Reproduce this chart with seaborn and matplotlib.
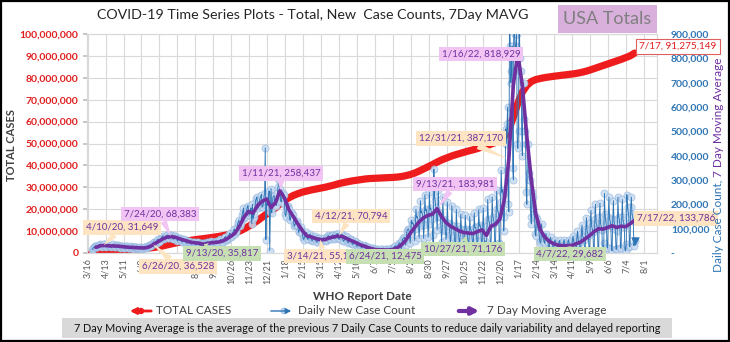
import matplotlib
matplotlib.use("Agg")
import numpy as np
import pandas as pd
import matplotlib.pyplot as plt
import matplotlib.dates as mdates
from matplotlib.patches import Rectangle, Ellipse
from matplotlib.ticker import FuncFormatter, MultipleLocator
import seaborn as sns

# ---------------- data ----------------
# Daily new case counts (thousands), Mon..Sun per row, first day 2020-03-23
daily_new_2020 = [
    14, 18, 22, 24, 27, 29, 27,
    26, 24, 28, 31, 33, 35, 31,
    29, 26, 31, 33, 35, 36, 30,
    27, 25, 29, 31, 32, 33, 29,
    27, 24, 28, 31, 33, 35, 28,
    25, 23, 27, 30, 32, 33, 29,
    24, 22, 25, 28, 29, 30, 26,
    21, 20, 23, 26, 27, 28, 25,
    21, 19, 22, 24, 26, 27, 23,
    20, 18, 20, 23, 25, 26, 23,
    19, 17, 20, 22, 24, 25, 22,
    18, 17, 20, 22, 24, 26, 23,
    20, 19, 24, 27, 29, 33, 31,
    29, 28, 35, 38, 42, 46, 44,
    40, 39, 46, 50, 55, 57, 49,
    47, 49, 57, 62, 65, 70, 61,
    58, 60, 66, 70, 72, 73, 65,
    60, 62, 68, 72, 74, 70, 63,
    57, 58, 64, 68, 70, 65, 58,
    50, 52, 56, 60, 62, 59, 53,
    46, 47, 52, 55, 56, 52, 47,
    41, 40, 45, 48, 50, 47, 42,
    37, 37, 42, 45, 47, 45, 40,
    35, 36, 41, 44, 46, 43, 37,
    31, 27, 32, 37, 41, 42, 40,
    34, 35, 39, 42, 46, 45, 40,
    37, 38, 42, 46, 49, 47, 42,
    36, 38, 43, 46, 50, 50, 44,
    40, 41, 47, 52, 56, 55, 46,
    44, 47, 55, 60, 66, 67, 54,
    52, 58, 63, 71, 79, 82, 68,
    65, 70, 78, 88, 95, 98, 80,
    85, 92, 105, 120, 128, 135, 110,
    115, 125, 140, 155, 170, 185, 145,
    150, 155, 165, 175, 190, 195, 170,
    155, 165, 180, 185, 120, 200, 140,
    150, 160, 190, 215, 225, 230, 195,
    185, 195, 215, 225, 235, 240, 190,
    190, 200, 230, 245, 432, 55, 205,
    195, 200, 215, 255, 10, 170, 265,
]
# first day 2020-12-28
daily_new_2021 = [
    165, 185, 230, 235, 235, 200, 200,
    195, 215, 245, 270, 300, 300, 265,
    215, 210, 230, 240, 245, 240, 200,
    160, 150, 175, 195, 195, 185, 180,
    140, 135, 150, 160, 165, 155, 140,
    110, 115, 120, 125, 130, 125, 110,
    85, 90, 95, 100, 105, 92, 78,
    60, 55, 65, 72, 80, 85, 70,
    56, 58, 70, 75, 77, 70, 55,
    50, 54, 62, 66, 68, 63, 53,
    44, 47, 55, 60, 63, 61, 55,
    45, 48, 55, 59, 63, 62, 53,
    50, 52, 60, 66, 72, 69, 65,
    56, 58, 67, 72, 75, 74, 60,
    58, 60, 72, 78, 80, 80, 62,
    56, 58, 70, 75, 78, 76, 56,
    48, 50, 60, 65, 68, 66, 49,
    42, 44, 52, 56, 58, 55, 43,
    35, 37, 44, 47, 49, 46, 36,
    28, 29, 35, 37, 39, 36, 27,
    22, 23, 28, 30, 32, 30, 24,
    18, 20, 23, 25, 24, 17, 13,
    10, 11, 16, 19, 20, 16, 13,
    10, 11, 14, 16, 17, 14, 9,
    10, 11, 14, 16, 17, 13, 10,
    9, 10, 14, 15, 16, 14, 9,
    10, 12, 15, 17, 20, 15, 9,
    8, 15, 25, 27, 30, 22, 13,
    22, 30, 38, 40, 43, 35, 16,
    35, 55, 60, 62, 65, 55, 32,
    60, 90, 95, 100, 95, 80, 40,
    80, 135, 120, 125, 120, 105, 50,
    100, 180, 145, 150, 140, 120, 60,
    110, 215, 165, 170, 160, 135, 60,
    115, 240, 175, 180, 165, 145, 65,
    120, 250, 180, 185, 170, 140, 75,
    30, 345, 230, 215, 190, 170, 95,
    150, 260, 170, 165, 150, 110, 45,
    100, 230, 140, 135, 125, 90, 55,
    90, 210, 125, 120, 110, 75, 40,
    80, 195, 115, 110, 100, 65, 35,
    50, 180, 110, 100, 95, 60, 35,
    70, 160, 100, 95, 85, 50, 28,
    65, 155, 100, 95, 85, 50, 24,
    65, 150, 95, 95, 85, 48, 22,
    70, 165, 105, 105, 95, 50, 26,
    80, 180, 110, 115, 105, 48, 27,
    90, 185, 110, 25, 50, 30, 15,
    110, 220, 140, 130, 120, 30, 20,
    120, 230, 150, 140, 125, 35, 25,
    135, 260, 180, 170, 160, 40, 35,
    210, 340, 250, 260, 240, 90, 150,
]
# first day 2021-12-27
daily_new_2022 = [
    250, 510, 450, 530, 600, 200, 170,
    1050, 850, 700, 750, 850, 350, 300,
    1400, 900, 800, 850, 900, 450, 430,
    500, 1100, 800, 750, 750, 500, 400,
    700, 700, 550, 500, 450, 250, 200,
    450, 450, 330, 300, 300, 150, 120,
    250, 230, 180, 160, 150, 80, 70,
    150, 140, 105, 95, 85, 50, 40,
    50, 120, 75, 65, 60, 45, 40,
    70, 80, 55, 50, 45, 20, 15,
    55, 65, 45, 40, 35, 15, 10,
    48, 55, 38, 33, 30, 12, 8,
    45, 52, 35, 32, 28, 10, 8,
    45, 55, 35, 30, 28, 9, 8,
    48, 55, 38, 33, 30, 8, 5,
    55, 70, 45, 42, 35, 10, 9,
    62, 90, 55, 48, 40, 12, 8,
    80, 115, 70, 65, 55, 12, 9,
    100, 145, 90, 80, 68, 12, 9,
    125, 175, 110, 100, 85, 12, 9,
    140, 200, 125, 115, 100, 12, 8,
    150, 205, 120, 110, 95, 0, 6,
    40, 245, 160, 130, 115, 25, 20,
    150, 230, 140, 130, 110, 15, 9,
    140, 215, 130, 120, 100, 15, 15,
    90, 230, 150, 140, 120, 20, 20,
    150, 220, 135, 125, 105, 12, 9,
    35, 240, 190, 170, 150, 25, 30,
    190, 230, 160, 150, 130, 30, 48,
]

# 7-day moving average (thousands), read weekly on Sundays from 2020-03-29
ma_2020 = [23, 30, 31, 29, 29, 28, 26, 24, 23, 22, 21, 21, 26, 37, 48, 59, 66, 67, 63, 56,
           51, 45, 42, 40, 36, 40, 43, 44, 48, 56, 68, 82, 111, 148, 171, 164, 195, 212, 222, 187]
ma_2021 = [207, 256, 226, 177, 149, 119, 92, 70, 66, 59, 55, 55, 62, 66, 70, 67, 58, 50, 42, 33,
           27, 20, 15, 13, 13, 12, 14, 20, 32, 52, 80, 105, 128, 145, 155, 160, 182, 150, 125, 110,
           100, 90, 84, 82, 80, 88, 95, 72, 110, 118, 140, 220]
ma_2022 = [387, 693, 819, 686, 479, 300, 160, 95, 65, 48, 38, 32, 30, 30, 31, 38, 45, 58, 72, 88,
           100, 98, 105, 112, 105, 110, 108, 120, 134]

# Total cases (millions), read weekly on Sundays from 2020-03-22
total_2020 = [0.03, 0.14, 0.33, 0.55, 0.76, 0.96, 1.16, 1.34, 1.51, 1.67, 1.82, 1.97, 2.12, 2.30,
              2.56, 2.90, 3.31, 3.77, 4.24, 4.68, 5.07, 5.43, 5.74, 6.04, 6.32, 6.57, 6.85, 7.15,
              7.46, 7.80, 8.19, 8.66, 9.24, 10.0, 11.0, 12.2, 13.4, 14.8, 16.3, 17.8, 19.2]
total_2021 = [20.6, 22.4, 24.0, 25.2, 26.3, 27.1, 27.8, 28.3, 28.8, 29.2, 29.6, 30.0, 30.5, 31.0,
              31.6, 32.1, 32.5, 32.9, 33.2, 33.5, 33.8, 34.0, 34.1, 34.2, 34.3, 34.4, 34.5, 34.65,
              34.9, 35.3, 35.8, 36.5, 37.4, 38.4, 39.4, 40.4, 41.5, 42.5, 43.3, 44.1, 44.8, 45.4,
              46.0, 46.6, 47.1, 47.7, 48.4, 48.9, 49.7, 50.5, 51.5, 53.0]
total_2022 = [56.5, 62.0, 68.5, 73.5, 76.5, 78.3, 79.2, 79.7, 80.1, 80.4, 80.7, 80.95, 81.2, 81.45,
              81.7, 82.0, 82.4, 82.9, 83.5, 84.2, 84.9, 85.6, 86.3, 87.0, 87.7, 88.4, 89.2, 90.0,
              91.275149]

xtick_labels = ["3/16", "4/13", "5/11", "6/8", "7/6", "8/3", "8/31", "9/28", "10/26", "11/23",
                "12/21", "1/18", "2/15", "3/15", "4/12", "5/10", "6/7", "7/5", "8/2", "8/30",
                "9/27", "10/25", "11/22", "12/20", "1/17", "2/14", "3/14", "4/11", "5/9", "6/6",
                "7/4", "8/1"]

callout_dates = ["2020-04-10", "2020-07-24", "2020-06-26", "2020-09-13", "2021-01-11",
                 "2021-03-14", "2021-04-12", "2021-06-24", "2021-09-13", "2021-10-27",
                 "2021-12-31", "2022-01-16", "2022-04-07", "2022-07-17"]
callout_values = [31649, 68383, 36528, 35817, 258437, 55157, 70794, 12475, 183981, 71176,
                  387170, 818929, 29682, 133786]
callout_kind = ["peach", "pink", "peach", "green", "pink", "peach", "peach", "green", "pink",
                "green", "peach", "pink", "green", "peach"]
total_label_text = "7/17, 91,275,149"

title_text = "COVID-19 Time Series Plots - Total, New  Case Counts, 7Day MAVG"
footer_text = ("7 Day Moving Average is the average of the previous 7 Daily Case Counts "
               "to reduce daily variability and delayed reporting")

# ---------------- layout / style ----------------
callout_xy = [(122, 227.5), (160, 214), (178, 266.5), (222, 253.5), (281, 173.5),
              (323, 256), (351, 216), (385, 256.5), (455, 184), (463, 249),
              (461, 138.5), (481, 54), (570, 254), (676, 218.5)]
fills = {"peach": "#fde4c2", "pink": "#f1c4f3", "green": "#c6dfb3"}
RED = "#ee1c1c"
BLUE = "#2e75b6"
PURPLE = "#7030a0"

sns.set_theme(style="white")
plt.rcParams["font.family"] = ["Lato", "DejaVu Sans"]

daily_all = daily_new_2020 + daily_new_2021 + daily_new_2022
daily = pd.DataFrame({
    "date": pd.date_range("2020-03-23", periods=len(daily_all), freq="D"),
    "cases": np.array(daily_all, dtype=float) * 1000,
})
ma_all = ma_2020 + ma_2021 + ma_2022
ma = pd.DataFrame({
    "date": pd.date_range("2020-03-29", periods=len(ma_all), freq="7D"),
    "ma": np.array(ma_all, dtype=float) * 1000,
})
total_all = total_2020 + total_2021 + total_2022
total = pd.DataFrame({
    "date": pd.date_range("2020-03-22", periods=len(total_all), freq="7D"),
    "total": np.array(total_all) * 1e6,
})

W, H = 730, 342
L, R, T, B = 87, 657, 34, 253
fig = plt.figure(figsize=(W / 100, H / 100), dpi=100)
fig.patch.set_facecolor("white")
ax = fig.add_axes([L / W, 1 - B / H, (R - L) / W, (B - T) / H])
ax2 = ax.twinx()

# total cases (primary axis)
sns.lineplot(data=total, x="date", y="total", ax=ax, color=RED, linewidth=5.2,
             solid_capstyle="round", zorder=2)
# daily counts (secondary axis)
sns.scatterplot(data=daily, x="date", y="cases", ax=ax2, s=26, color="#c9dcf2",
                edgecolor="#92b5e0", linewidth=0.5, alpha=0.85, zorder=2, legend=False)
sns.lineplot(data=daily, x="date", y="cases", ax=ax2, color=BLUE, linewidth=0.65, zorder=3)
sns.scatterplot(x=daily["date"].iloc[-1:], y=daily["cases"].iloc[-1:], ax=ax2, marker="v",
                s=30, color=BLUE, edgecolor=BLUE, zorder=4, legend=False)
# 7 day moving average
sns.lineplot(data=ma, x="date", y="ma", ax=ax2, color=PURPLE, linewidth=2.6, zorder=5)

ax.set_xlim(pd.Timestamp("2020-03-15"), pd.Timestamp("2022-08-21"))
ax.set_ylim(0, 100e6)
ax2.set_ylim(0, 900e3)
ax.yaxis.set_major_locator(MultipleLocator(10e6))
ax2.yaxis.set_major_locator(MultipleLocator(100e3))
ax.yaxis.set_major_formatter(FuncFormatter(lambda v, p: f"{v:,.0f}"))
ax2.yaxis.set_major_formatter(FuncFormatter(lambda v, p: "-" if v == 0 else f"{v:,.0f}"))

xtick_pos = pd.date_range("2020-03-16", periods=len(xtick_labels), freq="28D")
ax.set_xticks(xtick_pos)
ax.set_xticklabels(xtick_labels, rotation=90, fontsize=6.5, color="#595959")
ax.tick_params(axis="x", length=0, pad=4)
ax.tick_params(axis="y", length=3, color="#bfbfbf", pad=3, labelsize=7.5, labelcolor="#e01e1e")
ax2.tick_params(axis="y", length=0, pad=10, labelsize=7.5, labelcolor=BLUE)
for t in ax.get_yticklabels() + ax2.get_yticklabels():
    t.set_fontweight("bold")
ax.set_xlabel("")
ax.set_ylabel("")
ax2.set_ylabel("")
ax.grid(True, color="#d9d9d9", linewidth=0.8)
ax.set_axisbelow(True)
for a in (ax, ax2):
    for s in a.spines.values():
        s.set_color("#d9d9d9")
        s.set_linewidth(0.8)

# callouts
for d, v, k, (cx, cy) in zip(callout_dates, callout_values, callout_kind, callout_xy):
    ts = pd.Timestamp(d)
    txt = f"{ts.month}/{ts.day}/{ts.year % 100}, {v:,}"
    ax2.annotate(txt, xy=(mdates.date2num(ts), v), xycoords="data",
                 xytext=(cx, H - cy), textcoords="figure pixels",
                 ha="center", va="center", fontsize=7, color=PURPLE,
                 bbox=dict(boxstyle="square,pad=0.3", fc=fills[k], ec="none"),
                 arrowprops=dict(arrowstyle="wedge,tail_width=0.7,shrink_factor=0.5",
                                 fc=fills[k], ec="none", shrinkA=0, shrinkB=0),
                 annotation_clip=False, zorder=10)
last_total = total.iloc[-1]
ax2.annotate(total_label_text, xy=(mdates.date2num(last_total["date"]), last_total["total"]),
             xycoords=ax.transData, xytext=(678, H - 46.5), textcoords="figure pixels",
             ha="center", va="center", fontsize=7.2, color="#e01e1e",
             bbox=dict(boxstyle="square,pad=0.3", fc="white", ec="#e06060", lw=0.8),
             annotation_clip=False, zorder=11)

# overlay for decorations in pixel coordinates
ov = fig.add_axes([0, 0, 1, 1])
ov.set_xlim(0, W)
ov.set_ylim(H, 0)
ov.axis("off")
ov.patch.set_alpha(0)

ov.text(313, 15, title_text, ha="center", va="center", fontsize=10.3, color="#262626")
ov.add_patch(Rectangle((558, 5), 99, 28, fc="#d9b0dc", ec="none"))
ov.text(607.5, 19.5, "USA Totals", ha="center", va="center", fontsize=13, color="#7f7f7f")
ov.text(12, 145, "TOTAL CASES", rotation=90, ha="center", va="center", fontsize=8,
        fontweight="bold", color="#404040")
t1 = ov.text(718, 272, "Daily Case Count,", rotation=90, ha="center", va="bottom",
             fontsize=8.5, color=BLUE)
fig.canvas.draw()
bb = t1.get_window_extent(fig.canvas.get_renderer())
ov.text(718, 272 - bb.height - 3, "7 Day Moving Average", rotation=90, ha="center", va="bottom",
        fontsize=8.5, color=PURPLE)
ov.text(362, 296, "WHO Report Date", ha="center", va="center", fontsize=8.5,
        fontweight="bold", color="#404040")

# legend glyphs
ov.annotate("", xy=(127, 311), xytext=(154, 311),
            arrowprops=dict(arrowstyle="-|>", color=RED, lw=2, mutation_scale=9))
ov.add_patch(Ellipse((141, 311), 5, 5, fc=RED, ec=RED))
ov.text(156, 311, "TOTAL CASES", ha="left", va="center", fontsize=8.5, color="#404040")
ov.annotate("", xy=(294, 311), xytext=(268, 311),
            arrowprops=dict(arrowstyle="-|>", color=BLUE, lw=1.0, mutation_scale=8))
ov.add_patch(Ellipse((284, 311), 6, 6, fc="#c9dcf2", ec="#92b5e0", lw=0.5))
ov.text(298, 311, "Daily New Case Count", ha="left", va="center", fontsize=8.5, color="#404040")
ov.annotate("", xy=(482, 311), xytext=(456, 311),
            arrowprops=dict(arrowstyle="-|>", color=PURPLE, lw=3, mutation_scale=10))
ov.text(487, 311, "7 Day Moving Average", ha="left", va="center", fontsize=8.5, color="#404040")

ov.add_patch(Rectangle((62, 318), 610, 20, fc="#d9d9d9", ec="none"))
ov.text(367, 328, footer_text, ha="center", va="center", fontsize=7.8, color="#111111")
ov.add_patch(Rectangle((0.8, 0.8), W - 1.6, H - 1.6, fill=False, ec="black", lw=1.6,
                       clip_on=False))

fig.savefig("out.png", dpi=100)
